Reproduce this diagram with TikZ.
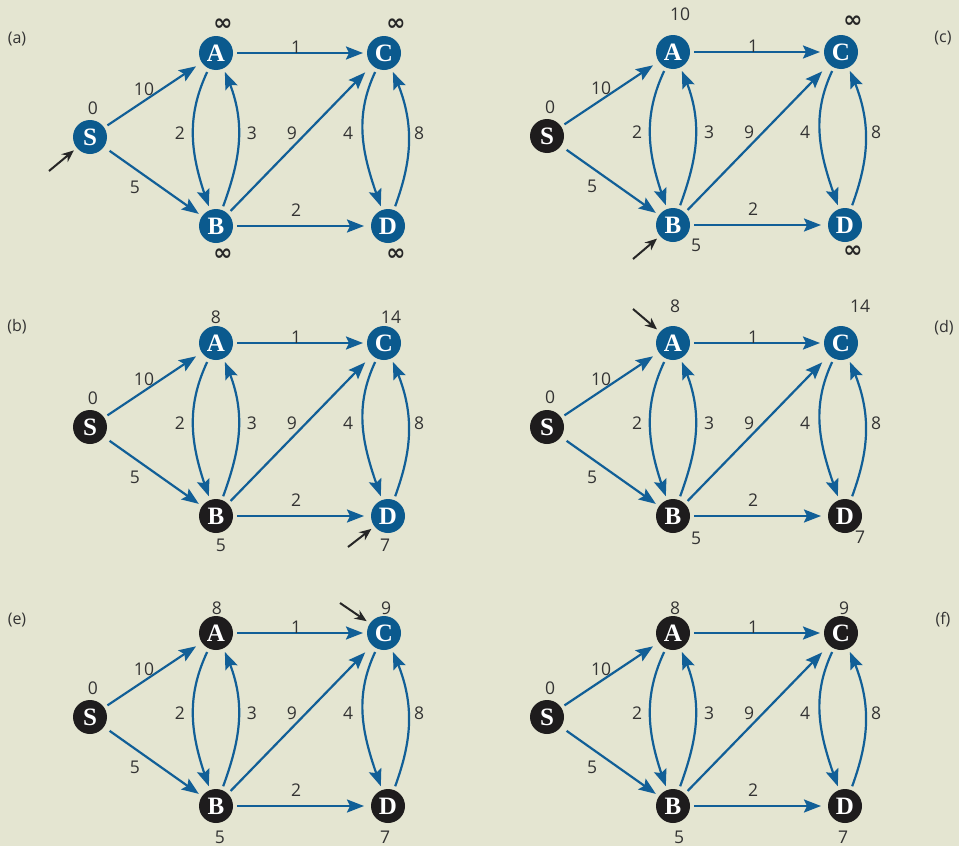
\documentclass[tikz,border=0pt]{standalone}
\usepackage{fontspec}
\setmainfont{Open Sans}
\newfontfamily\letterfont{Liberation Serif}
\newfontfamily\symfont{DejaVu Sans}
\usetikzlibrary{arrows.meta, bending, positioning}

\definecolor{bgpanel}{HTML}{E4E5D1}
\definecolor{nodeblue}{HTML}{0B5A8E}
\definecolor{edgeblue}{HTML}{115F97}
\definecolor{nodeblack}{HTML}{1E1C1D}
\definecolor{labelgray}{HTML}{333333}

% one step of the search: #1 prefix, #2 shift, #3-#7 looks of S,A,B,C,D
\newcommand{\dgraph}[7]{%
  \begin{scope}[shift={#2}]
    % vertices
    \node[vtx,#3] (#1S) at (90,-137) {S};
    \node[vtx,#4] (#1A) at (216,-53) {A};
    \node[vtx,#5] (#1B) at (216,-226) {B};
    \node[vtx,#6] (#1C) at (384,-53) {C};
    \node[vtx,#7] (#1D) at (388,-226) {D};
    % edges
    \draw[link, shorten >=3pt] (#1S) -- (#1A);
    \draw[link, shorten <=3pt] (#1S) -- (#1B);
    \draw[link] (#1A) -- (#1C);
    \draw[link, shorten >=3pt] (#1B) -- (#1D);
    \draw[link, shorten >=6pt] (#1B) -- (#1C);
    \draw[link] (#1A) to[down] (#1B);
    \draw[link] (#1B) to[up] (#1A);
    \draw[link] (#1C) to[down] (#1D);
    \draw[link] (#1D) to[up] (#1C);
    % weights
    \node[wt] at (144,-89) {10};
    \node[wt] at (135,-187) {5};
    \node[wt] at (296,-47) {1};
    \node[wt] at (180,-133) {2};
    \node[wt] at (252,-133) {3};
    \node[wt] at (292,-133) {9};
    \node[wt] at (348,-133) {4};
    \node[wt] at (419,-133) {8};
    \node[wt] at (296,-210) {2};
  \end{scope}}

\begin{document}
\begin{tikzpicture}[
    x=1pt, y=1pt,
    vtx/.style={circle, minimum size=34pt, inner sep=0pt, outer sep=4pt, text=white,
      font=\letterfont\bfseries\fontsize{25}{25}\selectfont},
    tent/.style={fill=nodeblue},
    settled/.style={fill=nodeblack},
    link/.style={-{Stealth[length=17pt, width=13pt, inset=3pt]}, line width=2.2pt,
      draw=edgeblue},
    down/.style={out=245, in=110, looseness=1},
    up/.style={out=70, in=295, looseness=1},
    wt/.style={text=labelgray, inner sep=0pt, font=\fontsize{17.5}{18}\selectfont},
    dist/.style={wt},
    infl/.style={inner sep=0pt, text=black!85, font=\symfont\bfseries\fontsize{23}{23}\selectfont},
    tag/.style={text=labelgray, inner sep=0pt, font=\fontsize{16}{16}\selectfont},
    pointer/.style={-{Stealth[length=12pt, width=10pt]}, line width=2pt,
      draw=black!85}
  ]

  \fill[bgpanel] (0,0) rectangle (959,-846);

  % (a)
  \dgraph{a-}{(0,0)}{tent}{tent}{tent}{tent}{tent}
  \node[tag] (a-tag) at (17,-39) {(a)};
  \node[dist] (a-dS) at ([shift={(3,29)}]a-S) {0};
  \node[infl] (a-dA) at ([shift={(7,28)}]a-A) {∞};
  \node[infl] (a-dC) at ([shift={(12,28)}]a-C) {∞};
  \node[infl] (a-dB) at ([shift={(7,-29)}]a-B) {∞};
  \node[infl] (a-dD) at ([shift={(8,-29)}]a-D) {∞};
  \coordinate (a-p) at ([shift={(-41,-34)}]a-S);
  \draw[pointer] (a-p) -- (a-S);

  % (b)
  \dgraph{b-}{(0,-290)}{settled}{tent}{settled}{tent}{tent}
  \node[tag] (b-tag) at (17,-327) {(b)};
  \node[dist] (b-dS) at ([shift={(3,29)}]b-S) {0};
  \node[dist] (b-dA) at ([shift={(0,26)}]b-A) {8};
  \node[dist] (b-dC) at ([shift={(7,26)}]b-C) {14};
  \node[dist] (b-dB) at ([shift={(5,-29)}]b-B) {5};
  \node[dist] (b-dD) at ([shift={(-3,-29)}]b-D) {7};
  \coordinate (b-p) at ([shift={(-40,-31)}]b-D);
  \draw[pointer] (b-p) -- (b-D);

  % (c)
  \dgraph{c-}{(457,1)}{settled}{tent}{tent}{tent}{tent}
  \node[tag] (c-tag) at (943,-38) {(c)};
  \node[dist] (c-dS) at ([shift={(3,29)}]c-S) {0};
  \node[dist] (c-dA) at ([shift={(7,38)}]c-A) {10};
  \node[infl] (c-dC) at ([shift={(12,30)}]c-C) {∞};
  \node[dist] (c-dB) at ([shift={(23,-20)}]c-B) {5};
  \node[infl] (c-dD) at ([shift={(8,-27)}]c-D) {∞};
  \coordinate (c-p) at ([shift={(-40,-34)}]c-B);
  \draw[pointer] (c-p) -- (c-B);

  % (d)
  \dgraph{d-}{(457,-290)}{settled}{tent}{settled}{tent}{settled}
  \node[tag] (d-tag) at (944,-328) {(d)};
  \node[dist] (d-dS) at ([shift={(3,30)}]d-S) {0};
  \node[dist] (d-dA) at ([shift={(2,37)}]d-A) {8};
  \node[dist] (d-dC) at ([shift={(19,37)}]d-C) {14};
  \node[dist] (d-dB) at ([shift={(23,-22)}]d-B) {5};
  \node[dist] (d-dD) at ([shift={(15,-21)}]d-D) {7};
  \coordinate (d-p) at ([shift={(-40,34)}]d-A);
  \draw[pointer] (d-p) -- (d-A);

  % (e)
  \dgraph{e-}{(0,-580)}{settled}{settled}{settled}{tent}{settled}
  \node[tag] (e-tag) at (17,-620) {(e)};
  \node[dist] (e-dS) at ([shift={(3,29)}]e-S) {0};
  \node[dist] (e-dA) at ([shift={(1,25)}]e-A) {8};
  \node[dist] (e-dC) at ([shift={(2,25)}]e-C) {9};
  \node[dist] (e-dB) at ([shift={(4,-31)}]e-B) {5};
  \node[dist] (e-dD) at ([shift={(-3,-31)}]e-D) {7};
  \coordinate (e-p) at ([shift={(-44,30)}]e-C);
  \draw[pointer] (e-p) -- (e-C);

  % (f)
  \dgraph{f-}{(457,-580)}{settled}{settled}{settled}{settled}{settled}
  \node[tag] (f-tag) at (943,-620) {(f)};
  \node[dist] (f-dS) at ([shift={(3,29)}]f-S) {0};
  \node[dist] (f-dA) at ([shift={(2,25)}]f-A) {8};
  \node[dist] (f-dC) at ([shift={(3,25)}]f-C) {9};
  \node[dist] (f-dB) at ([shift={(6,-31)}]f-B) {5};
  \node[dist] (f-dD) at ([shift={(-2,-31)}]f-D) {7};

\end{tikzpicture}
\end{document}
